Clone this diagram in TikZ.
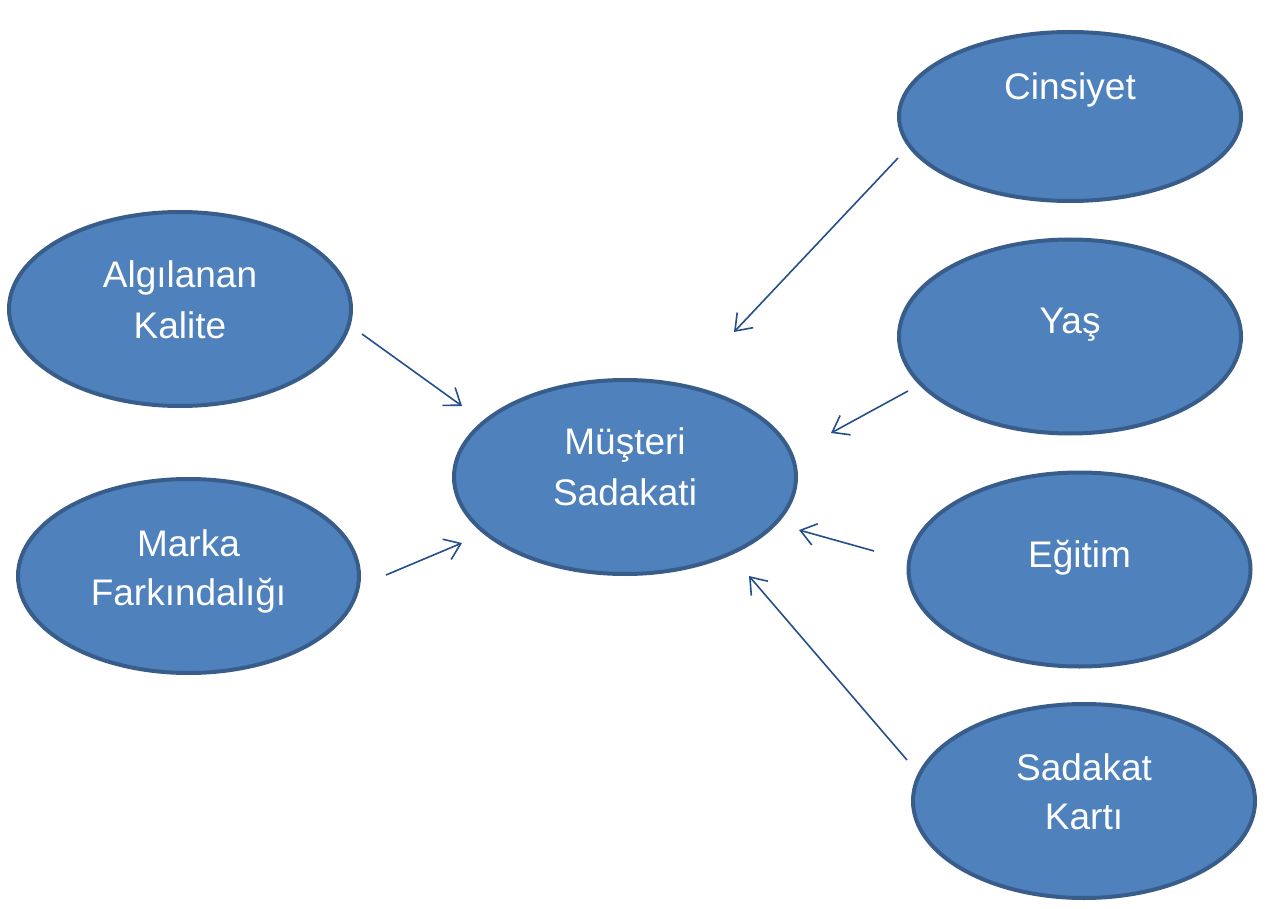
\documentclass[tikz,border=0pt]{standalone}
\usepackage{fontspec}
\setmainfont{Liberation Sans}
\usetikzlibrary{arrows.meta,shapes.geometric}
\definecolor{ovalfill}{HTML}{4F81BD}
\definecolor{ovaledge}{HTML}{385D8A}
\definecolor{linkcol}{HTML}{254F8C}
\tikzset{
  oval/.style={ellipse, draw=ovaledge, fill=ovalfill, line width=4pt,
    minimum width=342pt, minimum height=194pt, inner sep=0pt},
  lbl/.style={anchor=base, text=white, inner sep=0pt,
    font=\fontsize{37}{50}\selectfont},
  link/.style={draw=linkcol, line width=1.6pt,
    -{Straight Barb[length=15pt,width=22pt,line width=1.6pt]}}
}
\begin{document}
\begin{tikzpicture}[x=1pt,y=-1pt]
\useasboundingbox (0,0) rectangle (1277,909);

% outcome
\node[oval] (mus) at (625,477) {};
\node[lbl] (mus1) at (625,454) {Müşteri};
\node[lbl] (mus2) at (625,505) {Sadakati};

% left factors
\node[oval] (alg) at (180,309) {};
\node[lbl] (alg1) at (180,288) {Algılanan};
\node[lbl] (alg2) at (180,338) {Kalite};

\node[oval, minimum width=341pt] (mar) at (188.5,576) {};
\node[lbl] (mar1) at (188.5,556) {Marka};
\node[lbl] (mar2) at (188.5,605) {Farkındalığı};

% right factors
\node[oval, minimum height=169pt] (cin) at (1070,116.5) {};
\node[lbl] (cin1) at (1070,100) {Cinsiyet};

\node[oval] (yas) at (1070,336.5) {};
\node[lbl] (yas1) at (1070,334) {Yaş};

\node[oval] (egi) at (1079.5,569.5) {};
\node[lbl] (egi1) at (1079.5,567) {Eğitim};

\node[oval] (kar) at (1084,801) {};
\node[lbl] (kar1) at (1084,780) {Sadakat};
\node[lbl] (kar2) at (1084,829) {Kartı};

% free ends of the influence arrows
\coordinate (algS) at (362,334);  \coordinate (algT) at (462,406);
\coordinate (marS) at (386,575);  \coordinate (marT) at (462,543);
\coordinate (cinS) at (898,158);  \coordinate (cinT) at (734,332);
\coordinate (yasS) at (908,391);  \coordinate (yasT) at (831,433);
\coordinate (egiS) at (874,551);  \coordinate (egiT) at (799,530);
\coordinate (karS) at (907,760);  \coordinate (karT) at (749,576);

\draw[link] (algS) -- (algT);
\draw[link] (marS) -- (marT);
\draw[link] (cinS) -- (cinT);
\draw[link] (yasS) -- (yasT);
\draw[link] (egiS) -- (egiT);
\draw[link] (karS) -- (karT);
\end{tikzpicture}
\end{document}
